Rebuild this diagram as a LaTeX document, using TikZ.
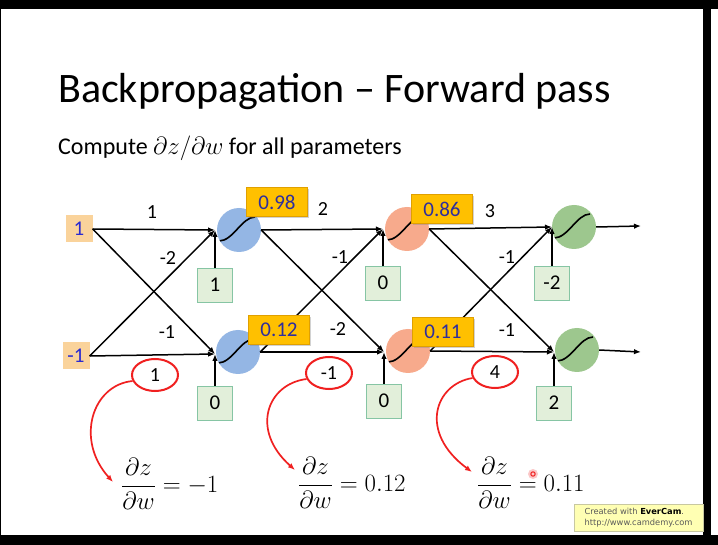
\documentclass[tikz,border=0pt]{standalone}
\usepackage{amsmath}
\usepackage{fontspec}
\setmainfont{Carlito}
\newfontfamily\notefont{DejaVu Sans}
\usetikzlibrary{arrows.meta,positioning,shapes.geometric,shadows}
\definecolor{neuronblue}{HTML}{94B6E4}
\definecolor{neuronorange}{HTML}{F7AA8C}
\definecolor{neurongreen}{HTML}{9DC78E}
\definecolor{biasfill}{HTML}{E2EFDA}
\definecolor{biasline}{HTML}{86C5A4}
\definecolor{inputfill}{HTML}{FAD39B}
\definecolor{inputink}{HTML}{2A2AD0}
\definecolor{valuefill}{HTML}{FFC000}
\definecolor{valueline}{HTML}{E0A000}
\definecolor{valueink}{HTML}{2E2E9E}
\definecolor{markred}{HTML}{F02020}
\definecolor{notefill}{HTML}{FFFFB3}
\definecolor{noteline}{HTML}{C8C8A0}
\tikzset{
  neuronnode/.style={circle,minimum size=44pt,inner sep=0pt,fill=#1,
    path picture={\draw[line width=1.6pt]
      ([shift={(-20pt,-11pt)}]path picture bounding box.center)
      .. controls +(14pt,0pt) and +(-13pt,0pt) ..
      ([shift={(16pt,13pt)}]path picture bounding box.center);}},
  inputnode/.style={fill=inputfill,minimum width=27pt,minimum height=27pt,inner sep=0pt,
    font=\fontsize{21}{24}\selectfont,text=inputink},
  biasnode/.style={draw=biasline,line width=0.8pt,fill=biasfill,minimum width=35pt,
    minimum height=34pt,inner sep=0pt,font=\fontsize{21}{24}\selectfont},
  valuenode/.style={draw=valueline,line width=0.6pt,fill=valuefill,minimum width=61pt,
    minimum height=29pt,inner sep=0pt,font=\fontsize{21}{24}\selectfont,text=valueink,
    drop shadow={shadow xshift=1.5pt,shadow yshift=-1.5pt,opacity=0.35}},
  weightlabel/.style={font=\fontsize{20}{24}\selectfont,inner sep=0pt},
  circled/.style={ellipse,draw=markred,line width=2pt,minimum width=46pt,
    minimum height=32pt,inner sep=0pt,font=\fontsize{20}{24}\selectfont},
  flowarrow/.style={-{Latex[length=7pt,width=5.5pt]},line width=1.5pt},
  redarrow/.style={-{Latex[length=7pt,width=5.5pt]},draw=markred,line width=1.7pt},
  gradnode/.style={anchor=west,inner sep=0pt,font=\fontsize{24}{28}\selectfont},
}
\begin{document}
\begin{tikzpicture}[x=1pt,y=-1pt]
  \useasboundingbox (0,0) rectangle (718,545);
  % frame of the screen grab
  \fill[black] (0,0) rectangle (718,545);
  \fill[white] (1,9) rectangle (703,535);
  \fill[white] (711,9) rectangle (718,535);

  \node[anchor=base west,inner sep=0pt,font=\fontsize{42}{48}\selectfont] (title) at (58,103) {Backpropagation -- Forward pass};
  \node[anchor=base west,inner sep=0pt,font=\fontsize{24}{28}\selectfont] (subtitle) at (58,155) {Compute $\partial z/\partial w$ for all parameters};

  % inputs
  \node[inputnode] (in1) at (79,229) {1};
  \node[inputnode] (in2) at (76,356) {-1};

  % neurons
  \node[neuronnode=neuronblue] (n1) at (239,230) {};
  \node[neuronnode=neuronblue] (n2) at (238,352) {};
  \node[neuronnode=neuronorange] (n3) at (407,229) {};
  \node[neuronnode=neuronorange] (n4) at (408,351) {};
  \node[neuronnode=neurongreen] (n5) at (574,227) {};
  \node[neuronnode=neurongreen] (n6) at (577,350) {};

  \coordinate (c1) at (215,230);
  \coordinate (c2) at (215,354);
  \coordinate (c3) at (383,229);
  \coordinate (c4) at (384,352);
  \coordinate (c5) at (552,227);
  \coordinate (c6) at (554,352);
  \coordinate (o5) at (641,226);
  \coordinate (o6) at (641,352);

  % biases
  \node[biasnode] (b1) at (215,285) {1};
  \node[biasnode] (b2) at (215,403) {0};
  \node[biasnode] (b3) at (383,283) {0};
  \node[biasnode] (b4) at (384,401) {0};
  \node[biasnode] (b5) at (552,283) {-2};
  \node[biasnode] (b6) at (554,403) {2};

  % connections
  \draw[flowarrow] (in1.east) -- (c1);
  \draw[flowarrow] (in1.east) -- (c2);
  \draw[flowarrow] (in2.east) -- (c2);
  \draw[flowarrow] (in2.east) -- (c1);
  \draw[flowarrow] (n1.east) -- (c3);
  \draw[flowarrow] (n1.east) -- (c4);
  \draw[flowarrow] (n2.east) -- (c4);
  \draw[flowarrow] (n2.east) -- (c3);
  \draw[flowarrow] (n3.east) -- (c5);
  \draw[flowarrow] (n3.east) -- (c6);
  \draw[flowarrow] (n4.east) -- (c6);
  \draw[flowarrow] (n4.east) -- (c5);
  \foreach \b/\c in {b1/c1,b2/c2,b3/c3,b4/c4,b5/c5,b6/c6}
    \draw[flowarrow] (\b.north) -- (\c);
  \draw[flowarrow] (n5.east) -- (o5);
  \draw[flowarrow] (n6.east) -- (o6);

  % outputs of the neurons
  \node[valuenode] (v1) at (277,202) {0.98};
  \node[valuenode] (v2) at (279,330) {0.12};
  \node[valuenode] (v3) at (442,209) {0.86};
  \node[valuenode] (v4) at (443,332) {0.11};

  % weights
  \node[weightlabel] (w11) at (152,212) {1};
  \node[weightlabel] (w12) at (168,258) {-2};
  \node[weightlabel] (w21) at (167,332) {-1};
  \node[weightlabel] (w31) at (323,209) {2};
  \node[weightlabel] (w32) at (340,257) {-1};
  \node[weightlabel] (w41) at (338,329) {-2};
  \node[weightlabel] (w51) at (490,211) {3};
  \node[weightlabel] (w52) at (507,257) {-1};
  \node[weightlabel] (w61) at (507,330) {-1};
  \node[circled] (e1) at (155,375) {1};
  \node[circled] (e2) at (329,373) {-1};
  \node[circled] (e3) at (495,372) {4};

  % gradients
  \node[gradnode] (g1) at (121,484) {$\dfrac{\partial z}{\partial w} = -1$};
  \node[gradnode] (g2) at (298,483) {$\dfrac{\partial z}{\partial w} = 0.12$};
  \node[gradnode] (g3) at (477,483) {$\dfrac{\partial z}{\partial w} = 0.11$};
  \draw[redarrow] (e1.195) .. controls (92,385) and (75,440) .. (113,482);
  \draw[redarrow] (e2.195) .. controls (267,384) and (250,430) .. (295,470);
  \draw[redarrow] (e3.195) .. controls (435,384) and (418,432) .. (472,472);

  % pointer mark
  \fill[markred,opacity=0.25] (533,474) circle (5);
  \draw[markred,line width=1pt] (533,474) circle (2.2);

  \node[draw=noteline,fill=notefill,minimum width=129pt,minimum height=27pt,inner sep=3pt,
    align=left,font=\notefont\fontsize{8.3}{10.5}\selectfont,text=black!65] (note) at (638.5,517.5)
    {Created with \textbf{\color{black}EverCam}.\\http://www.camdemy.com};
\end{tikzpicture}
\end{document}
